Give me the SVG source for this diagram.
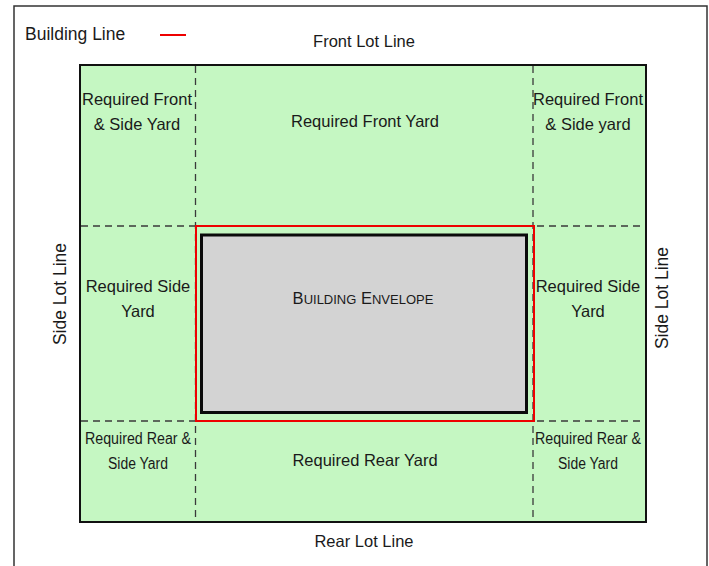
<svg xmlns="http://www.w3.org/2000/svg" width="709" height="566" viewBox="0 0 709 566">
<style>
text{font-family:"Liberation Sans",Arial,sans-serif;fill:#1a1a1a;text-anchor:middle;}
.lbl{font-size:16.5px;}
.sm{font-size:16px;}
.side{font-size:17.5px;}
.dash{stroke:#3a3a3a;stroke-width:1.3;stroke-dasharray:7,5;fill:none;}
</style>
<rect width="709" height="566" fill="#fff"/>
<rect id="frame" x="14" y="6" width="693" height="580" fill="none" stroke="#333" stroke-width="1.5"/>
<g id="legend">
<text x="25" y="40" style="text-anchor:start;font-size:17.5px">Building Line</text>
<line x1="160" y1="35" x2="186" y2="35" stroke="#e00" stroke-width="2"/>
</g>
<g id="lot">
<rect x="80" y="65" width="566" height="457" fill="#c5f7c2" stroke="#111" stroke-width="2"/>
</g>
<g id="connectors">
<line class="dash" x1="195.5" y1="66" x2="195.5" y2="521"/>
<line class="dash" x1="533" y1="66" x2="533" y2="521"/>
<line class="dash" x1="81" y1="226" x2="645" y2="226"/>
<line class="dash" x1="81" y1="421" x2="645" y2="421"/>
</g>
<g id="building-line">
<rect x="196" y="226" width="338" height="195" fill="none" stroke="#e00" stroke-width="2"/>
</g>
<g id="envelope">
<rect x="201.5" y="235" width="325" height="177.5" fill="#d3d3d3" stroke="#0a0a0a" stroke-width="3"/>
<text x="363" y="304" style="font-size:16.5px">B<tspan style="font-size:13px">UILDING</tspan> E<tspan style="font-size:13px">NVELOPE</tspan></text>
</g>
<g id="front-lot-line"><text class="lbl" x="364" y="47">Front Lot Line</text></g>
<g id="rear-lot-line"><text class="lbl" x="364" y="547">Rear Lot Line</text></g>
<g id="side-lot-left"><text class="side" transform="translate(66,294) rotate(-90)">Side Lot Line</text></g>
<g id="side-lot-right"><text class="side" transform="translate(668,298) rotate(-90)">Side Lot Line</text></g>
<g id="front-side-left"><text class="lbl" x="137" y="105">Required Front</text><text class="lbl" x="137" y="130">&amp; Side Yard</text></g>
<g id="front-yard"><text class="lbl" x="365" y="127">Required Front Yard</text></g>
<g id="front-side-right"><text class="lbl" x="588" y="105">Required Front</text><text class="lbl" x="588" y="130">&amp; Side yard</text></g>
<g id="side-left"><text class="lbl" x="138" y="292">Required Side</text><text class="lbl" x="138" y="317">Yard</text></g>
<g id="side-right"><text class="lbl" x="588" y="292">Required Side</text><text class="lbl" x="588" y="317">Yard</text></g>
<g id="rear-side-left"><text class="sm" x="138" y="444" textLength="106" lengthAdjust="spacingAndGlyphs">Required Rear &amp;</text><text class="sm" x="138" y="469" textLength="60" lengthAdjust="spacingAndGlyphs">Side Yard</text></g>
<g id="rear-yard"><text class="lbl" x="365" y="466">Required Rear Yard</text></g>
<g id="rear-side-right"><text class="sm" x="588" y="444" textLength="106" lengthAdjust="spacingAndGlyphs">Required Rear &amp;</text><text class="sm" x="588" y="469" textLength="60" lengthAdjust="spacingAndGlyphs">Side Yard</text></g>
</svg>
